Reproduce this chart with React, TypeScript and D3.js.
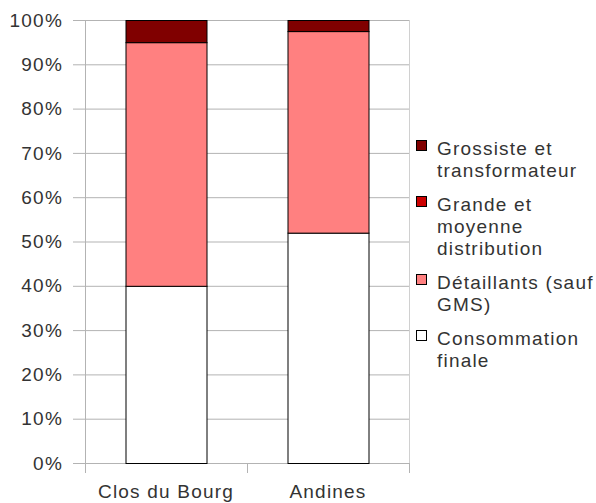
import * as d3 from "d3";

const categories = ["Clos du Bourg", "Andines"];
const seriesNames = ["Consommation finale", "Détaillants (sauf GMS)", "Grande et moyenne distribution", "Grossiste et transformateur"];
const consommation = [40, 52];
const detaillants = [55, 45.5];
const gms = [0, 0];
const grossiste = [5, 2.5];
const yTicks = [0, 10, 20, 30, 40, 50, 60, 70, 80, 90, 100];
const colors = ["#ffffff", "#ff8080", "#cc0000", "#800000"];

// legend, top to bottom, with wrapped lines
const legendItems = [
  { color: "#800000", lines: ["Grossiste et", "transformateur"] },
  { color: "#cc0000", lines: ["Grande et", "moyenne", "distribution"] },
  { color: "#ff8080", lines: ["Détaillants (sauf", "GMS)"] },
  { color: "#ffffff", lines: ["Consommation", "finale"] },
];

const W = 596;
const H = 503;
const margin = { top: 20, right: 187, bottom: 40, left: 85 };

const App = () => {
  const x = d3.scaleBand().domain(categories).range([margin.left, W - margin.right]).paddingInner(0.5).paddingOuter(0.25);
  const y = d3.scaleLinear().domain([0, 100]).range([H - margin.bottom, margin.top]);

  const rows = categories.map((c, i) => ({
    cat: c,
    [seriesNames[0]]: consommation[i],
    [seriesNames[1]]: detaillants[i],
    [seriesNames[2]]: gms[i],
    [seriesNames[3]]: grossiste[i],
  }));
  const stacked = d3.stack().keys(seriesNames)(rows as any);

  const x0 = margin.left;
  const x1 = W - margin.right;
  const yb = y(0);
  const font = { fontFamily: "Liberation Sans, Arial, sans-serif", fontSize: 19, letterSpacing: 1.2, fill: "#333" };

  // category boundaries for the bottom ticks
  const step = (x1 - x0) / categories.length;
  const catTicks = d3.range(categories.length + 1).map((i) => x0 + i * step);

  let ly = 155;

  return (
    <svg width={W} height={H} style={{ position: "absolute", left: 0, top: 0 }}>
      <rect width={W} height={H} fill="#fff" />
      {yTicks.map((t) => (
        <g key={t}>
          <line x1={x0 - 12} x2={x1} y1={y(t) + 0.5} y2={y(t) + 0.5} stroke="#b3b3b3" />
          <text x={63} y={y(t)} dy="0.35em" textAnchor="end" {...font}>{t}%</text>
        </g>
      ))}
      <line x1={x0 + 0.5} x2={x0 + 0.5} y1={margin.top} y2={yb + 10} stroke="#b3b3b3" />
      <line x1={x1 + 0.5} x2={x1 + 0.5} y1={margin.top} y2={yb + 10} stroke="#d0d0d0" />
      {catTicks.map((cx, i) => (
        <line key={i} x1={cx + 0.5} x2={cx + 0.5} y1={yb} y2={yb + 10} stroke="#b3b3b3" />
      ))}
      {stacked.map((s, si) => (
        <g key={s.key}>
          {s.map((d: any, i) =>
            d[1] - d[0] > 0 ? (
              <rect
                key={i}
                x={(x(categories[i]) as number) + 0.5}
                y={y(d[1]) + 0.5}
                width={x.bandwidth()}
                height={y(d[0]) - y(d[1])}
                fill={colors[si]}
                stroke="#000"
                strokeWidth={1}
              />
            ) : null
          )}
        </g>
      ))}
      {categories.map((c) => (
        <text key={c} x={(x(c) as number) + x.bandwidth() / 2} y={498} textAnchor="middle" {...font}>{c}</text>
      ))}
      {legendItems.map((it, i) => {
        const top = ly;
        ly += it.lines.length * 22 + 12;
        return (
          <g key={i}>
            <rect x={416.5} y={top - 14.5} width={10} height={10} fill={it.color} stroke="#000" />
            {it.lines.map((l, j) => (
              <text key={j} x={437} y={top + j * 22} {...font}>{l}</text>
            ))}
          </g>
        );
      })}
    </svg>
  );
};

export default App;
